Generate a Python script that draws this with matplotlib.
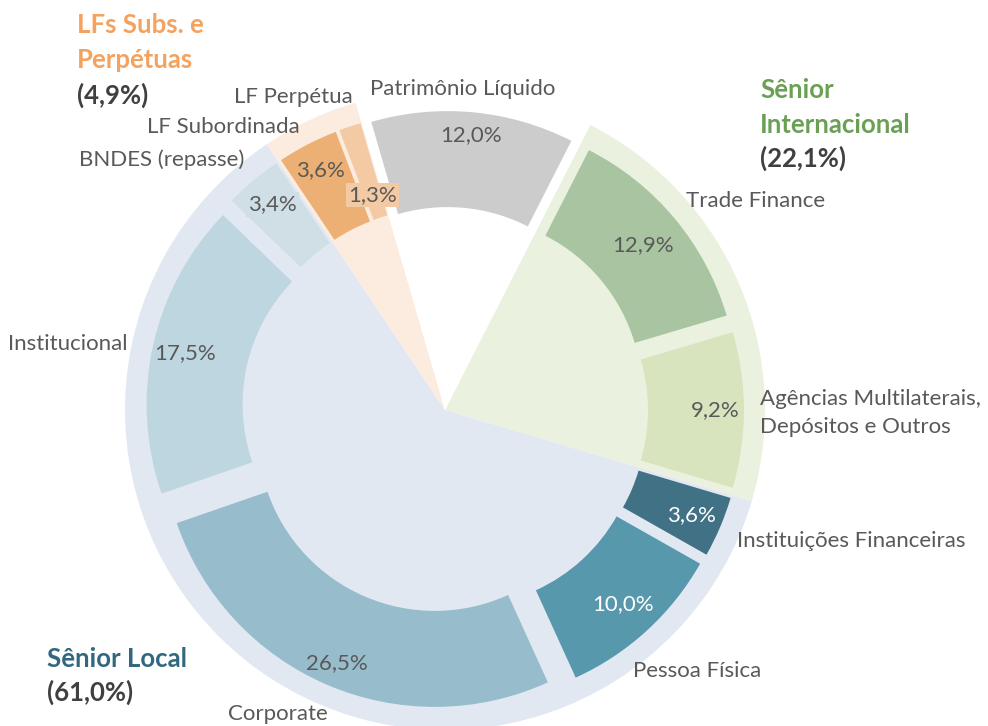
import numpy as np
import matplotlib
matplotlib.use("Agg")
import matplotlib.pyplot as plt

# ---------------- data ----------------
categories = ["Trade Finance", "Agências Multilaterais,\nDepósitos e Outros",
              "Instituições Financeiras", "Pessoa Física", "Corporate",
              "Institucional", "BNDES (repasse)", "LF Subordinada",
              "LF Perpétua", "Patrimônio Líquido"]
values = [12.9, 9.2, 3.6, 10.0, 26.5, 17.5, 3.4, 3.6, 1.3, 12.0]
pct_labels = ["12,9%", "9,2%", "3,6%", "10,0%", "26,5%", "17,5%", "3,4%",
              "3,6%", "1,3%", "12,0%"]

group_names = [["Sênior", "Internacional"], ["Sênior Local"], ["LFs Subs. e", "Perpétuas"], []]
group_values = [22.1, 61.0, 4.9, 12.0]
group_pct = ["(22,1%)", "(61,0%)", "(4,9%)", ""]

# ---------------- style ----------------
W, H = 988, 726
CX, CY = 445, 410          # chart centre (pixels from top-left)
R_BG = 320
R_OUT, R_WIDTH, EXPL = 273, 96, 26
START = 63

bg_colors = ["#ebf1df", "#e1e8f2", "#fcece0", "white"]
colors = ["#a9c4a0", "#d8e4be", "#407184", "#5898ad", "#97bccc",
          "#bed6e0", "#d0dfe6", "#ecb075", "#f3caa4", "#cccccc"]
pct_colors = ["#595959", "#595959", "white", "white", "#595959", "#595959",
              "#595959", "#595959", "#595959", "#595959"]
pct_radius = [258, 270, 268, 263, 275, 266, 268, 270, 227, 276]
pct_box = [None, None, None, None, None, None, "#d0dfe6", None, "#f3caa4", None]

# outside category label positions (pixel centres) and alignment
cat_pos = [(686, 201, "left"), (760, 413, "left"), (737, 541, "left"),
           (633, 671, "left"), (278, 714, "center"), (8, 344, "left"),
           (79, 160, "left"), (147, 127, "left"), (293, 97, "center"),
           (463, 89, "center")]

group_title_colors = ["#6aa054", "#31687f", "#f4a25f"]
group_title_pos = [(760, [90, 125], 158), (47, [659], 692), (77, [25, 60], 95)]

FONT = "Lato"
TXT = "#595959"
FS = 16
FS_T = 18.5

fig = plt.figure(figsize=(W / 100, H / 100), dpi=100)
ax = fig.add_axes([0, 0, 1, 1])

def P(x, y):
    return x, H - y

center = P(CX, CY)
ax.pie(group_values, radius=R_BG, center=center, startangle=START,
       counterclock=False, colors=bg_colors,
       wedgeprops=dict(linewidth=0))
wedges, _ = ax.pie(values, radius=R_OUT, center=center, startangle=START,
                   counterclock=False, colors=colors, explode=[EXPL] * len(values),
                   wedgeprops=dict(width=R_WIDTH, linewidth=0))

for w, lab, col, r, box in zip(wedges, pct_labels, pct_colors, pct_radius, pct_box):
    ang = np.deg2rad((w.theta1 + w.theta2) / 2)
    x = center[0] + r * np.cos(ang)
    y = center[1] + r * np.sin(ang)
    kw = {}
    if box:
        kw["bbox"] = dict(boxstyle="square,pad=0.1", fc=box, ec="none")
    ax.text(x, y, lab, ha="center", va="center", color=col, fontsize=FS,
            family=FONT, **kw)

for lab, (x, y, ha) in zip(categories, cat_pos):
    ax.text(*P(x, y), lab, ha=ha, va="center", color=TXT, fontsize=FS,
            family=FONT, linespacing=1.45)

for names, gp, col, (x, ys, y2) in zip(group_names, group_pct, group_title_colors, group_title_pos):
    for nm, y in zip(names, ys):
        ax.text(*P(x, y), nm, ha="left", va="center", color=col, fontsize=FS_T,
                family=FONT, fontweight="bold")
    ax.text(*P(x, y2), gp, ha="left", va="center", color="#404040", fontsize=FS_T,
            family=FONT, fontweight="bold")

ax.set_xlim(0, W)
ax.set_ylim(0, H)
ax.set_aspect("equal")
ax.axis("off")
fig.savefig("out.png", dpi=100)
